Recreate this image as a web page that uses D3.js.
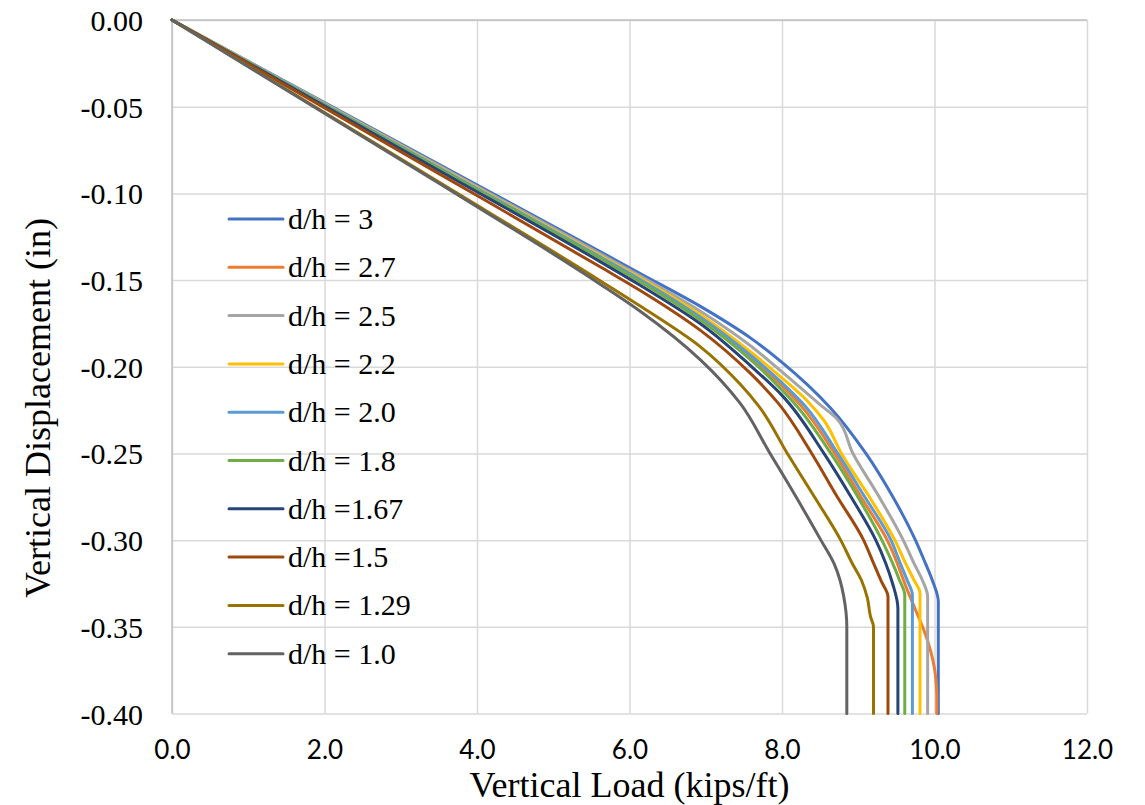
<!DOCTYPE html>
<html>
<head>
<meta charset="utf-8">
<script src="https://cdn.jsdelivr.net/npm/d3@7"></script>
<style>
  html, body { margin: 0; padding: 0; background: #ffffff; }
  svg { display: block; }
</style>
</head>
<body>
<svg id="chart" width="1145" height="805"></svg>
<script>
// ---- data (load in kips/ft, displacement in inches) ----
const seriesNames = ["d/h = 3", "d/h = 2.7", "d/h = 2.5", "d/h = 2.2", "d/h = 2.0",
                     "d/h = 1.8", "d/h =1.67", "d/h =1.5", "d/h = 1.29", "d/h = 1.0"];
const seriesColors = ["#4472C4", "#ED7D31", "#A5A5A5", "#FFC000", "#5B9BD5",
                      "#70AD47", "#264478", "#9E480E", "#997300", "#636363"];

const dh30 = [[0,0],[3.5,-0.0833],[5.62,-0.1337],[6.14,-0.1462],[6.93,-0.1652],[7.59,-0.1835],[8.0,-0.1975],
  [8.63,-0.2235],[9.10,-0.2500],[9.44,-0.2740],[9.75,-0.3000],[9.88,-0.3133],[9.97,-0.3230],[10.05,-0.3355],[10.05,-0.4000]];
const dh27 = [[0,0],[3.5,-0.0851],[5.62,-0.1370],[6.14,-0.1500],[6.93,-0.1722],[7.59,-0.1950],[8.0,-0.2110],
  [8.25,-0.2225],[8.69,-0.2500],[9.02,-0.2740],[9.38,-0.3000],[9.66,-0.3306],[9.77,-0.3422],[9.87,-0.3530],
  [9.95,-0.3640],[10.00,-0.3740],[10.025,-0.3840],[10.03,-0.3920],[10.03,-0.4000]];
const dh25 = [[0,0],[3.5,-0.0840],[5.62,-0.1349],[6.14,-0.1476],[6.93,-0.1680],[7.59,-0.1880],[8.0,-0.2030],
  [8.49,-0.2215],[8.72,-0.2300],[8.93,-0.2500],[9.26,-0.2740],[9.59,-0.3000],[9.73,-0.3133],[9.84,-0.3230],[9.91,-0.3326],[9.91,-0.4000]];
const dh22 = [[0,0],[3.5,-0.0847],[5.62,-0.1360],[6.14,-0.1488],[6.93,-0.1700],[7.59,-0.1915],[8.0,-0.2065],
  [8.36,-0.2210],[8.55,-0.2310],[8.78,-0.2500],[9.13,-0.2740],[9.48,-0.3000],[9.62,-0.3133],[9.73,-0.3230],[9.81,-0.3306],[9.81,-0.4000]];
const dh20 = [[0,0],[3.5,-0.0851],[5.62,-0.1367],[6.14,-0.1497],[6.93,-0.1715],[7.59,-0.1935],[8.0,-0.2093],
  [8.30,-0.2225],[8.73,-0.2500],[9.07,-0.2740],[9.43,-0.3000],[9.55,-0.3133],[9.64,-0.3230],[9.71,-0.3316],[9.71,-0.4000]];
const dh18 = [[0,0],[3.5,-0.0858],[5.62,-0.1376],[6.14,-0.1509],[6.93,-0.1730],[7.59,-0.1960],[8.0,-0.2134],
  [8.19,-0.2225],[8.64,-0.2500],[8.98,-0.2740],[9.31,-0.3000],[9.45,-0.3133],[9.54,-0.3230],[9.61,-0.3316],[9.61,-0.4000]];
const dh167 = [[0,0],[3.5,-0.0868],[5.62,-0.1395],[6.14,-0.1530],[6.93,-0.1752],[7.59,-0.1995],[8.0,-0.2165],
  [8.55,-0.2500],[8.89,-0.2740],[9.23,-0.3000],[9.36,-0.3133],[9.45,-0.3250],[9.52,-0.3393],[9.52,-0.4000]];
const dh15 = [[0,0],[3.5,-0.0886],[5.62,-0.1425],[6.14,-0.1560],[6.93,-0.1790],[7.59,-0.2040],[7.95,-0.2210],
  [8.39,-0.2500],[8.71,-0.2740],[9.07,-0.3000],[9.20,-0.3133],[9.30,-0.3235],[9.39,-0.3326],[9.39,-0.4000]];
const dh129 = [[0,0],[3.5,-0.0935],[5.62,-0.1505],[6.14,-0.1650],[6.93,-0.1885],[7.45,-0.2100],[7.70,-0.2230],
  [8.07,-0.2500],[8.41,-0.2740],[8.77,-0.3000],[8.92,-0.3133],[9.04,-0.3230],[9.12,-0.3335],[9.16,-0.3440],[9.20,-0.3500],[9.20,-0.4000]];
const dh10 = [[0,0],[3.5,-0.0942],[5.62,-0.1525],[6.14,-0.1680],[6.93,-0.1960],[7.45,-0.2210],[7.83,-0.2490],
  [8.17,-0.2740],[8.51,-0.3000],[8.68,-0.3133],[8.76,-0.3230],[8.81,-0.3326],[8.85,-0.3500],[8.85,-0.4000]];

const seriesData = [dh30, dh27, dh25, dh22, dh20, dh18, dh167, dh15, dh129, dh10];

const xTicks = [0, 2, 4, 6, 8, 10, 12];
const yTicks = [0, -0.05, -0.10, -0.15, -0.20, -0.25, -0.30, -0.35, -0.40];
const xTitle = "Vertical Load (kips/ft)";
const yTitle = "Vertical Displacement (in)";

// ---- layout ----
const pL = 172, pR = 1087, pT = 20, pB = 713.5;
const svg = d3.select("#chart");

const x = d3.scaleLinear().domain([0, 12]).range([pL, pR]);
const y = d3.scaleLinear().domain([0, -0.4]).range([pT, pB]);

// gridlines
const gx = svg.append("g").attr("transform", `translate(0,${pB})`)
  .call(d3.axisBottom(x).tickValues(xTicks).tickSize(-(pB - pT)).tickFormat(""));
gx.select(".domain").remove();
gx.selectAll(".tick line").attr("stroke", "#d9d9d9").attr("stroke-width", 1.5);

const gy = svg.append("g").attr("transform", `translate(${pL},0)`)
  .call(d3.axisLeft(y).tickValues(yTicks).tickSize(-(pR - pL)).tickFormat(""));
gy.select(".domain").remove();
gy.selectAll(".tick line").attr("stroke", "#d9d9d9").attr("stroke-width", 1.5);

// axis lines (x axis crosses at 0 -> top; y axis at left)
svg.append("line").attr("x1", pL).attr("x2", pR).attr("y1", y(0)).attr("y2", y(0))
  .attr("stroke", "#bfbfbf").attr("stroke-width", 1.5);
svg.append("line").attr("x1", x(0)).attr("x2", x(0)).attr("y1", pT).attr("y2", pB)
  .attr("stroke", "#bfbfbf").attr("stroke-width", 1.5);

// tick labels
const xl = svg.append("g").attr("transform", `translate(0,${pB})`)
  .call(d3.axisBottom(x).tickValues(xTicks).tickSize(0).tickPadding(27).tickFormat(d => d.toFixed(1)));
xl.select(".domain").remove();
xl.selectAll("text").attr("font-family", "Lato, 'Liberation Sans', sans-serif")
  .attr("font-size", 26).attr("fill", "#000");

const yl = svg.append("g").attr("transform", `translate(${pL},0)`)
  .call(d3.axisLeft(y).tickValues(yTicks).tickSize(0).tickPadding(29)
    .tickFormat(d => (Math.abs(d) < 1e-9 ? 0 : d).toFixed(2)));
yl.select(".domain").remove();
yl.selectAll("text").attr("font-family", "'Liberation Serif', 'Times New Roman', serif")
  .attr("font-size", 30).attr("fill", "#000").attr("dy", "0.35em");

// series
const line = d3.line().x(d => x(d[0])).y(d => y(d[1])).curve(d3.curveMonotoneY);
svg.append("g").selectAll("path").data(seriesData).join("path")
  .attr("d", line).attr("fill", "none")
  .attr("stroke", (d, i) => seriesColors[i]).attr("stroke-width", 3)
  .attr("stroke-linejoin", "round").attr("stroke-linecap", "round");

// axis titles
svg.append("text").attr("x", (pL + pR) / 2).attr("y", 797).attr("text-anchor", "middle")
  .attr("font-family", "'Liberation Serif', 'Times New Roman', serif").attr("font-size", 36)
  .attr("fill", "#000").text(xTitle);
svg.append("text").attr("transform", "translate(50,408) rotate(-90)").attr("text-anchor", "middle")
  .attr("font-family", "'Liberation Serif', 'Times New Roman', serif").attr("font-size", 36)
  .attr("fill", "#000").text(yTitle);

// legend
const legend = svg.append("g");
const legY0 = 219, legStep = 48.3;
seriesNames.forEach((name, i) => {
  const yy = legY0 + i * legStep;
  legend.append("line").attr("x1", 229).attr("x2", 283).attr("y1", yy).attr("y2", yy)
    .attr("stroke", seriesColors[i]).attr("stroke-width", 3).attr("stroke-linecap", "round");
  legend.append("text").attr("x", 288).attr("y", yy + 10)
    .attr("font-family", "'Liberation Serif', 'Times New Roman', serif").attr("font-size", 30)
    .attr("fill", "#000").text(name);
});
</script>
</body>
</html>
